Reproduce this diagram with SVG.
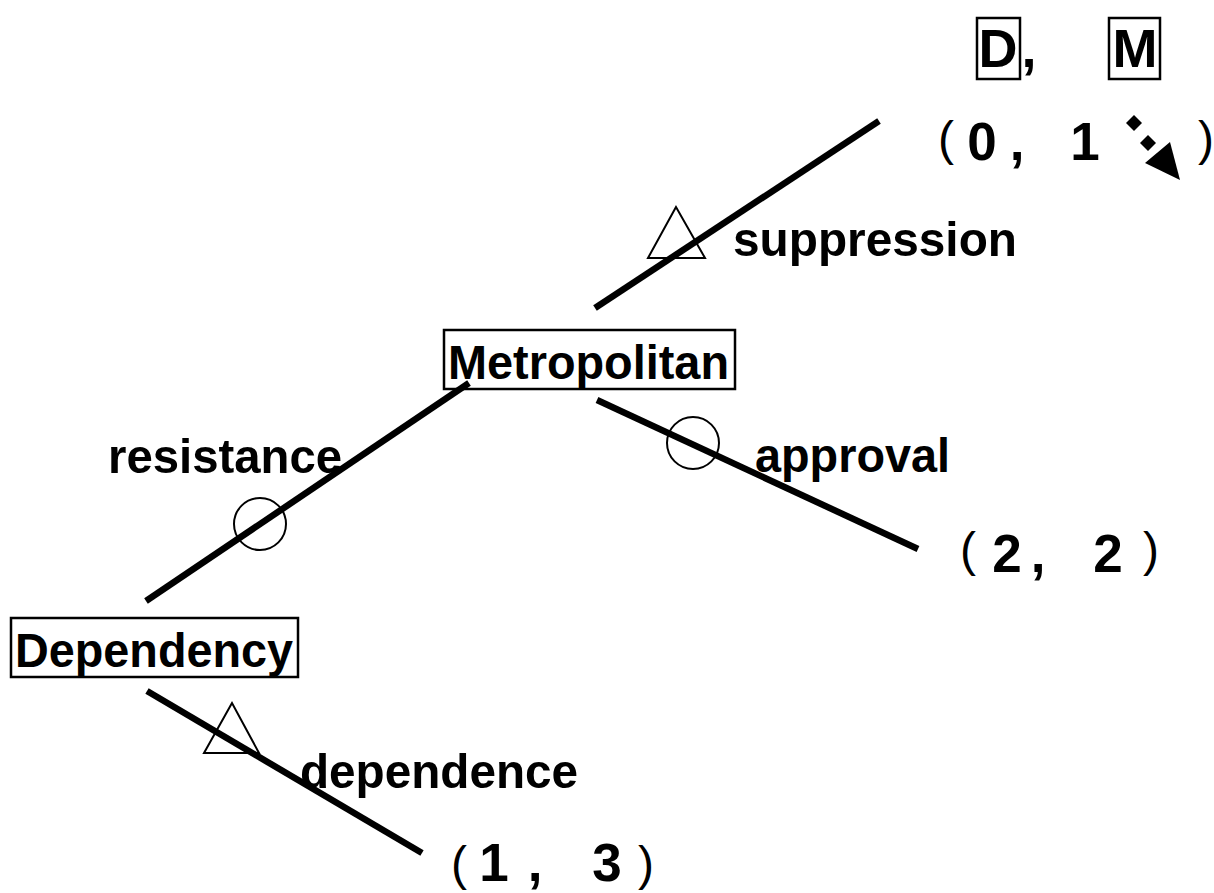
<svg xmlns="http://www.w3.org/2000/svg" width="1214" height="893" viewBox="0 0 1214 893">
<style>
.lbl{font-family:"Liberation Sans",Arial,sans-serif;font-weight:bold;font-size:49px;fill:#000}
.num{font-family:"Liberation Sans",Arial,sans-serif;font-weight:bold;font-size:53px;fill:#000;text-anchor:middle}
.par{font-family:"Liberation Sans",Arial,sans-serif;font-size:48px;fill:#000;text-anchor:middle}
.box{fill:none;stroke:#000;stroke-width:2.5}
.edge{stroke:#000;stroke-width:6.5;fill:none}
.mark{fill:none;stroke:#000;stroke-width:2}
</style>
<rect width="1214" height="893" fill="#fff"/>
<g id="connectors">
<line class="edge" x1="595" y1="308" x2="879" y2="121"/>
<line class="edge" x1="469" y1="383" x2="146" y2="601"/>
<line class="edge" x1="597" y1="400" x2="918" y2="549"/>
<line class="edge" x1="147" y1="691" x2="422" y2="853"/>
</g>
<g id="marks">
<polygon class="mark" points="676,207 648,258 705,258"/>
<circle class="mark" cx="260" cy="524" r="26"/>
<circle class="mark" cx="693" cy="443" r="26"/>
<polygon class="mark" points="232,703 204,753 259,753"/>
</g>
<g id="labels">
<text class="lbl" x="733" y="256" textLength="284" lengthAdjust="spacingAndGlyphs">suppression</text>
<text class="lbl" x="108" y="473" textLength="234" lengthAdjust="spacingAndGlyphs">resistance</text>
<text class="lbl" x="755" y="472" textLength="195" lengthAdjust="spacingAndGlyphs">approval</text>
<text class="lbl" x="300" y="788" textLength="278" lengthAdjust="spacingAndGlyphs">dependence</text>
</g>
<g id="node-metropolitan">
<rect class="box" x="444" y="330" width="291" height="59"/>
<text class="lbl" x="448" y="379" textLength="281" lengthAdjust="spacingAndGlyphs">Metropolitan</text>
</g>
<g id="node-dependency">
<rect class="box" x="11" y="618" width="287" height="59"/>
<text class="lbl" x="15" y="667" textLength="278" lengthAdjust="spacingAndGlyphs">Dependency</text>
</g>
<g id="header">
<rect class="box" x="977" y="18" width="43" height="61"/>
<text class="lbl" x="998" y="67" text-anchor="middle" style="font-size:54px">D</text>
<text class="lbl" x="1029" y="67" text-anchor="middle" style="font-size:54px">,</text>
<rect class="box" x="1109" y="18" width="51" height="61"/>
<text class="lbl" x="1135" y="67" text-anchor="middle" style="font-size:54px">M</text>
</g>
<g id="payoff-top">
<text class="par" x="946" y="155">(</text>
<text class="num" x="982" y="160">0</text>
<text class="num" x="1017" y="160">,</text>
<text class="num" x="1085" y="160">1</text>
<polygon points="1134,115 1142,123 1134,131 1126,123" fill="#000"/>
<polygon points="1148,135 1156,143 1148,151 1140,143" fill="#000"/>
<polygon points="1145,163 1170,142 1180,180" fill="#000"/>
<text class="par" x="1206" y="155">)</text>
</g>
<g id="payoff-right">
<text class="par" x="968" y="566">(</text>
<text class="num" x="1007" y="572">2</text>
<text class="num" x="1038" y="572">,</text>
<text class="num" x="1108" y="572">2</text>
<text class="par" x="1151" y="566">)</text>
</g>
<g id="payoff-bottom">
<text class="par" x="459" y="880">(</text>
<text class="num" x="494" y="881">1</text>
<text class="num" x="535" y="881">,</text>
<text class="num" x="607" y="881">3</text>
<text class="par" x="646" y="880">)</text>
</g>
</svg>
